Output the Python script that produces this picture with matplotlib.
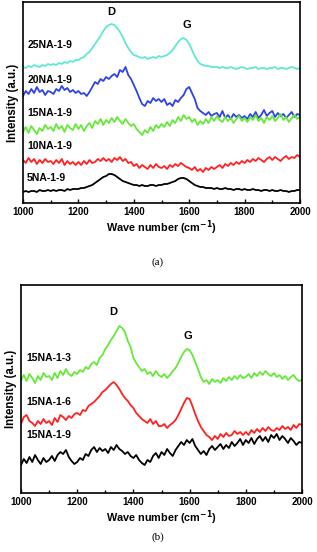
import numpy as np
import matplotlib
matplotlib.use("Agg")
import matplotlib.pyplot as plt
from matplotlib.ticker import MultipleLocator

wavenumber = np.arange(1000, 2001, 10)

# ---- panel (a) ----
a_25 = [136,135,137,136,138,137,136,138,137,139,
        138,139,138,140,139,141,140,142,141,143,
        143,145,146,149,151,155,159,163,167,172,
        176,178,179,178,175,171,166,160,155,151,
        148,147,146,145,146,144,145,146,145,147,
        146,147,148,150,153,157,161,164,165,163,
        159,153,147,142,139,138,137,137,136,136,
        136,135,136,135,135,136,135,134,135,136,
        135,134,135,135,136,134,135,135,134,135,
        135,136,134,135,135,134,135,136,135,134,
        135]
a_20 = [107,112,109,114,110,116,111,113,108,112,
        111,109,114,112,117,113,115,111,113,110,
        112,109,110,107,111,116,121,119,124,122,
        126,124,127,129,126,133,131,136,128,124,
        118,112,105,99,97,102,100,105,102,104,
        101,104,98,100,97,103,101,105,108,114,
        116,110,104,95,92,90,88,91,87,89,
        90,86,92,85,88,84,89,86,88,85,
        87,84,89,86,91,85,88,93,87,90,
        92,86,90,87,89,85,88,91,86,89,
        88]
a_15 = [71,76,70,77,73,69,75,72,78,74,
        76,72,79,74,77,71,78,75,73,79,
        74,78,72,77,80,75,82,79,84,78,
        83,80,85,81,86,82,79,84,80,77,
        79,74,71,68,73,70,76,72,78,75,
        79,76,81,77,83,80,86,82,88,84,
        86,81,84,78,82,79,84,80,86,82,
        87,83,81,86,82,85,80,84,87,82,
        85,81,86,83,88,82,85,80,86,83,
        87,82,85,89,83,86,81,85,88,84,
        86]
a_10 = [43,40,45,41,44,39,43,40,44,41,
        42,39,43,40,44,38,42,39,41,38,
        41,38,42,39,43,40,41,44,42,45,
        42,44,41,45,43,46,42,44,40,41,
        37,39,35,38,36,34,38,35,39,36,
        35,37,34,38,36,39,37,40,38,36,
        35,33,36,32,34,31,35,33,36,34,
        36,38,35,39,37,40,38,41,39,42,
        40,43,41,44,42,45,43,41,44,46,
        43,46,44,42,45,47,44,46,45,48,
        46]
a_5 = [11,12,11,12,12,11,13,12,12,13,
       12,13,12,13,13,12,14,13,14,14,
       14,15,15,16,17,18,20,22,24,26,
       27,29,29,28,26,24,22,21,20,19,
       18,18,17,18,17,17,18,18,17,18,
       18,19,19,20,21,22,24,25,25,24,
       22,20,18,17,16,16,15,15,15,14,
       15,14,14,15,14,14,13,14,14,13,
       14,13,13,14,13,13,12,13,13,12,
       13,12,12,13,12,12,11,12,12,13,
       13]

# ---- panel (b) ----
b_13 = [113,118,112,119,115,110,117,113,120,116,
        117,113,120,115,122,118,124,119,117,121,
        119,123,121,126,124,129,131,128,135,138,
        144,148,153,157,162,167,165,161,152,146,
        135,130,126,122,124,119,121,117,122,118,
        116,119,115,118,122,125,130,136,141,144,
        143,138,131,124,116,111,113,109,114,111,
        113,110,115,112,116,113,117,114,118,115,
        116,119,115,120,117,121,118,122,119,117,
        120,116,118,114,117,113,116,118,114,112,
        113]
b_16 = [69,76,78,72,70,67,72,69,74,70,
        72,68,75,71,78,76,73,77,75,79,
        80,78,83,82,87,89,91,94,97,101,
        103,106,109,111,108,104,99,95,92,88,
        85,80,77,74,72,70,74,69,72,67,
        67,69,65,68,70,73,78,84,90,95,
        94,87,79,72,66,62,58,56,53,57,
        54,59,56,60,57,58,62,59,61,58,
        61,58,63,60,64,61,65,62,66,63,
        62,65,63,67,64,66,63,68,65,69,
        68]
b_19 = [28,34,30,36,31,38,33,29,35,31,
        33,37,32,38,41,39,43,36,32,29,
        31,35,33,39,37,43,46,41,45,42,
        44,40,46,43,48,44,42,39,41,37,
        35,38,33,30,28,33,31,37,40,35,
        41,38,44,40,37,43,47,51,48,53,
        50,54,47,43,39,42,38,44,47,43,
        46,49,44,48,45,51,47,50,54,48,
        53,50,55,49,54,57,52,56,51,58,
        55,59,53,57,54,50,55,52,48,51,
        50]

series_a = [("25NA-1-9", a_25, "#5FE8D2", 158),
            ("20NA-1-9", a_20, "#2E42E6", 123),
            ("15NA-1-9", a_15, "#66E83A", 90),
            ("10NA-1-9", a_10, "#FF2020", 57),
            ("5NA-1-9", a_5, "#000000", 25)]
series_b = [("15NA-1-3", b_13, "#66E83A", 135),
            ("15NA-1-6", b_16, "#FF2020", 91),
            ("15NA-1-9", b_19, "#000000", 58)]
peaks_a = [("D", 1320, 191), ("G", 1590, 178)]
peaks_b = [("D", 1327, 181), ("G", 1595, 157)]
xticks = [1000, 1200, 1400, 1600, 1800, 2000]

plt.rcParams['font.family'] = ['Liberation Sans', 'DejaVu Sans']
fig = plt.figure(figsize=(3.17, 5.52), dpi=100)
W, H = 317, 552

def make_axes(l, r, t, b):
    return fig.add_axes([l / W, 1 - b / H, (r - l) / W, (b - t) / H])

ax1 = make_axes(23, 300, 2, 203)
ax2 = make_axes(21, 302, 285, 493)

def style(ax, ymax, series, peaks, labx):
    for name, vals, col, ly in series:
        ax.plot(wavenumber, vals, color=col, lw=1.3)
        ax.text(labx, ly, name, fontsize=7.5, fontweight='bold', ha='left', va='center')
    for name, px, py in peaks:
        ax.text(px, py, name, fontsize=8, fontweight='bold', ha='center', va='center')
    ax.set_xlim(1000, 2000)
    ax.set_ylim(0, ymax)
    ax.set_yticks([])
    ax.set_xticks(xticks)
    ax.xaxis.set_minor_locator(MultipleLocator(100))
    ax.tick_params(axis='x', which='major', direction='in', length=3, width=1,
                   labelsize=7, pad=3)
    ax.tick_params(axis='x', which='minor', direction='in', length=2, width=1)
    for lab in ax.get_xticklabels():
        lab.set_fontweight('bold')
    for s in ax.spines.values():
        s.set_linewidth(1.2)
    ax.set_xlabel("Wave number (cm$^{\\mathbf{-1}}$)", fontsize=7.8, fontweight='bold', labelpad=1)
    ax.set_ylabel("Intensity (a.u.)", fontsize=8.3, fontweight='bold', labelpad=3)

style(ax1, 201, series_a, peaks_a, 1015)
style(ax2, 208, series_b, peaks_b, 1018)

fig.text(158 / W, 1 - 262 / H, "(a)", fontsize=8, family='Liberation Serif', ha='center', va='center')
fig.text(158 / W, 1 - 537 / H, "(b)", fontsize=8, family='Liberation Serif', ha='center', va='center')

fig.savefig("out.png", dpi=100)
